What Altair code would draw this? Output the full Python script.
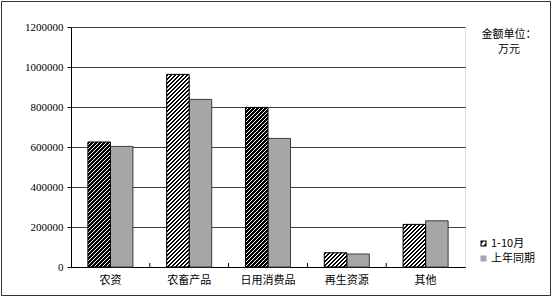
import math
import altair as alt
import pandas as pd

# ---- data ----
categories = ["农资", "农畜产品", "日用消费品", "再生资源", "其他"]
series_names = ["1-10月", "上年同期"]
values_current = [625000, 963000, 798000, 71000, 213000]
values_previous = [603000, 838000, 643000, 65000, 231000]
y_ticks = [0, 200000, 400000, 600000, 800000, 1000000, 1200000]
unit_title = ["金额单位：", "万元"]

# ---- layout / style ----
PLOT_W, PLOT_H = 394, 240
Y_MAX = 1200000
OFFSET_PAD = 0.75
BAR_W = PLOT_W / len(categories) / (2 + 2 * OFFSET_PAD)
PERIOD = 4 / math.sqrt(2)  # 4 px horizontal repeat of the 45 degree hatch
BLACK_FRAC = 0.58
CJK = "Noto Sans CJK SC"
NUM = "Liberation Serif"
GRAY = "#a6a6a6"
# legend symbol for the hatched series: black square with a white "/" band
HATCH_SYMBOL = "M-1,-1H1V1H-1Z M-0.8,0.2L-0.2,0.8L0.8,-0.2L0.2,-0.8Z"


def hatch(w, h, period=PERIOD, black=BLACK_FRAC):
    """Diagonal '/' hatch as a striped linear gradient in bbox units."""
    w = max(w, 1.0)
    h = max(h, 1.0)
    s = (w + h) * w / (w * w + h * h)
    n = (w + h) / math.sqrt(2) / period  # periods covered (not rounded)
    stops = []
    i = 0
    while i < n:
        a = i / n
        b = min(1.0, (i + black) / n)
        c = min(1.0, (i + 1) / n)
        stops += [
            {"offset": a, "color": "#000000"},
            {"offset": b, "color": "#000000"},
        ]
        if b < 1.0:
            stops += [
                {"offset": b, "color": "#ffffff"},
                {"offset": c, "color": "#ffffff"},
            ]
        i += 1
    return {"gradient": "linear", "x1": 0, "y1": 0, "x2": s, "y2": s * h / w, "stops": stops}


rows = []
for c, v1, v2 in zip(categories, values_current, values_previous):
    rows.append({"category": c, "series": series_names[0], "value": v1})
    rows.append({"category": c, "series": series_names[1], "value": v2})
df = pd.DataFrame(rows)

x_axis = alt.Axis(
    title=None, ticks=False, labelAngle=0, labelFont=CJK, labelFontSize=11,
    labelColor="#000000", labelPadding=7, domainColor="#000000", grid=False,
)
y_axis = alt.Axis(
    title=None, values=y_ticks, format="d", labelFont=NUM, labelFontSize=11,
    labelColor="#000000", tickSize=4, tickColor="#000000", labelPadding=4,
    domainColor="#000000", grid=True, gridColor="#404040", labelOverlap=False,
)
x_scale = alt.Scale(domain=categories, paddingInner=0, paddingOuter=0)
xo_scale = alt.Scale(domain=series_names, paddingInner=0, paddingOuter=OFFSET_PAD)
y_scale = alt.Scale(domain=[0, Y_MAX], nice=False)


def x_enc(**kw):
    return alt.X("category:N", sort=categories, scale=x_scale, axis=x_axis, **kw)


x_off = alt.XOffset("series:N", scale=xo_scale)
y_enc = alt.Y("value:Q", scale=y_scale, axis=y_axis)


def legend():
    return alt.Legend(
        title=None, orient="none", legendX=407, legendY=211,
        symbolSize=36, symbolStrokeColor="#000000", symbolStrokeWidth=1,
        symbolOpacity=1, labelFont=CJK, labelFontSize=11,
        labelColor="#000000", labelOffset=2, rowPadding=3,
    )


gray = (
    alt.Chart(df)
    .transform_filter(alt.datum.series == series_names[1])
    .mark_bar(fill=GRAY, stroke="#3c3c3c", strokeWidth=1)
    .encode(x=x_enc(), xOffset=x_off, y=y_enc)
)

hatched_layers = []
for c, v in zip(categories, values_current):
    hatched_layers.append(
        alt.Chart(df)
        .transform_filter((alt.datum.series == series_names[0]) & (alt.datum.category == c))
        .mark_bar(fill=hatch(BAR_W, v / Y_MAX * PLOT_H), stroke="#000000", strokeWidth=1)
        .encode(x=x_enc(), xOffset=x_off, y=y_enc)
    )

# invisible points that only carry the legend
legend_layer = (
    alt.Chart(df)
    .mark_point(filled=True, opacity=0)
    .encode(
        x=x_enc(), y=y_enc,
        color=alt.Color("series:N", scale=alt.Scale(domain=series_names, range=["#000000", GRAY]),
                        legend=legend()),
        shape=alt.Shape("series:N", scale=alt.Scale(domain=series_names, range=[HATCH_SYMBOL, "square"]),
                        legend=legend()),
    )
)

ticks = (
    alt.Chart(pd.DataFrame({"category": categories[1:]}))
    .mark_rule(color="#000000", strokeWidth=1)
    .encode(
        x=x_enc(bandPosition=0),
        y=alt.Y(datum=0, scale=y_scale, axis=y_axis),
        y2=alt.datum(20000),
    )
)

border = (
    alt.Chart(pd.DataFrame({"k": [0]}))
    .mark_rect(filled=False, stroke="#333333", strokeWidth=1)
    .encode(x=alt.value(-69.5), x2=alt.value(479.5), y=alt.value(-25.5), y2=alt.value(268.5))
)

chart = (
    alt.layer(gray, *hatched_layers, ticks, legend_layer, border)
    .properties(
        width=PLOT_W, height=PLOT_H,
        autosize=alt.AutoSizeParams(type="none"),
        padding={"left": 71, "top": 27, "right": 89, "bottom": 30},
        title=alt.TitleParams(
            text=unit_title, anchor="start", align="center", dx=508, dy=54,
            font=CJK, fontSize=11, fontWeight="normal", color="#000000",
            baseline="top", offset=0, lineHeight=15,
        ),
    )
    .configure_view(stroke="#c0c0c0", strokeWidth=1)
    .configure(background="#ffffff")
)

chart.save("out.html", embed_options={"renderer": "svg", "actions": False})
